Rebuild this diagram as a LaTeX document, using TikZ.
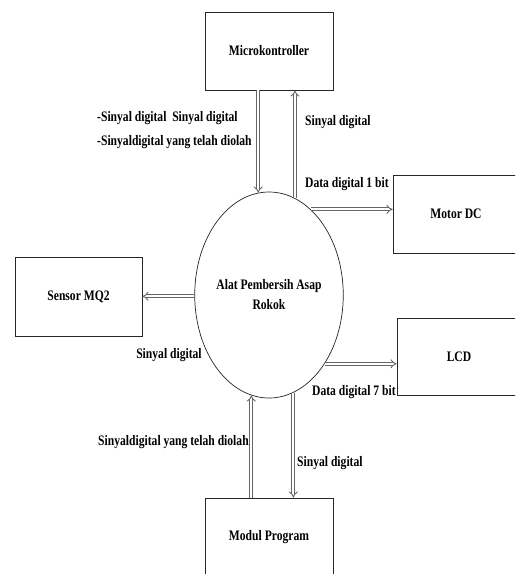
\documentclass[tikz,border=0pt]{standalone}
\usepackage{fontspec}
\setmainfont{Liberation Serif}[FakeStretch=0.8]
\usetikzlibrary{shapes.geometric,arrows.meta}
\tikzset{
  blk/.style={draw=black!85, line width=0.8pt, minimum width=128pt, minimum height=78pt, inner sep=0pt, font=\bfseries\fontsize{14.5}{16}\selectfont},
  proc/.style={ellipse, draw=black!85, line width=0.7pt, minimum width=128pt, minimum height=206pt, inner sep=0pt, align=center, font=\bfseries\fontsize{14.5}{20}\selectfont},
  flow/.style={draw=black!60, line width=0.9pt, double=white, double distance=2.2pt, -{Implies[length=4pt]}},
  lbl/.style={inner sep=0pt, font=\bfseries\fontsize{14.5}{16}\selectfont},
}
\begin{document}
\begin{tikzpicture}[x=1pt,y=-1pt]
\useasboundingbox (0,0) rectangle (515,574);
\clip (0,0) rectangle (515,574);
\node[blk] (micro) at (269,51) {Microkontroller};
\node[blk, minimum width=127pt, minimum height=79pt] (sensor) at (78.5,296.5) {Sensor MQ2};
\node[blk, minimum width=126pt] (motor) at (456,214) {Motor DC};
\node[blk, minimum width=124pt, minimum height=77pt] (lcd) at (459,356.5) {LCD};
\node[blk] (modul) at (269,537) {Modul Program};
\node[proc] (ell) at (269,295) {Alat Pembersih Asap\\Rokok};

\draw[flow] (ell.96.8 |- micro.south) -- (ell.96.8);
\draw[flow] (ell.75.3) -- (ell.75.3 |- micro.south);
\draw[flow] (ell.64.6) -- (ell.64.6 -| motor.west);
\draw[flow] (ell.181) -- (ell.181 -| sensor.east);
\draw[flow] (ell.-51) -- (ell.-51 -| lcd.west);
\draw[flow] (ell.260.9 |- modul.north) -- (ell.260.9);
\draw[flow] (ell.-76.5) -- (ell.-76.5 |- modul.north);

\node[lbl, anchor=west] (t1) at (97,118) {-Sinyal digital\ \ Sinyal digital};
\node[lbl, anchor=west] (t2) at (97,142) {-Sinyaldigital yang telah diolah};
\node[lbl, anchor=west] (t3) at (305,122) {Sinyal digital};
\node[lbl, anchor=west] (t4) at (305,184) {Data digital 1 bit};
\node[lbl] (t5) at (169,355) {Sinyal digital};
\node[lbl, anchor=west] (t6) at (312,392) {Data digital 7 bit};
\node[lbl, anchor=west] (t7) at (98,442) {Sinyaldigital yang telah diolah};
\node[lbl, anchor=west] (t8) at (297,463) {Sinyal digital};
\end{tikzpicture}
\end{document}
